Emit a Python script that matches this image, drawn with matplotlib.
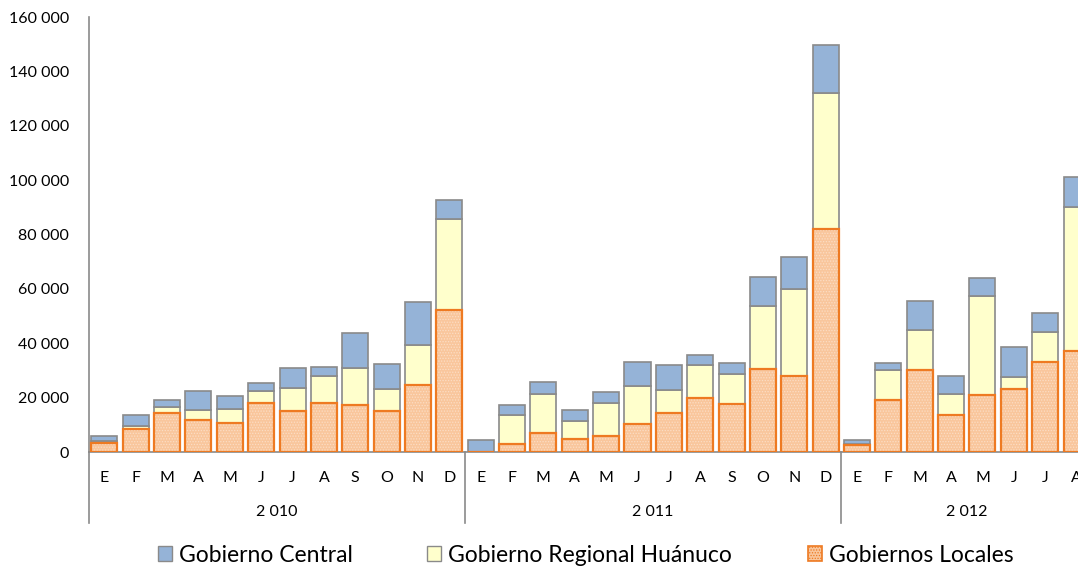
import matplotlib
matplotlib.use("Agg")
import matplotlib.pyplot as plt
from matplotlib.patches import Patch
from matplotlib.ticker import FuncFormatter
import numpy as np

plt.rcParams['font.family'] = ['Lato', 'DejaVu Sans']

years = ["2 010", "2 011", "2 012"]
months_per_year = [12, 12, 8]
month_labels = (["E", "F", "M", "A", "M", "J", "J", "A", "S", "O", "N", "D"] * 2
                 + ["E", "F", "M", "A", "M", "J", "J", "A"])

series_names = ["Gobierno Central", "Gobierno Regional Huánuco", "Gobiernos Locales"]

# Gobiernos Locales (bottom)
locales = [3300, 8350, 14400, 11700, 10600, 18200, 15100, 18200, 17300, 15200, 24700, 52100,
           0, 2950, 6900, 4800, 5800, 10400, 14500, 19800, 17800, 30700, 27900, 82200,
           2450, 19000, 30000, 13600, 21000, 23200, 33300, 37100]
# Gobierno Regional Huánuco (middle)
regional = [900, 1100, 2100, 3900, 5300, 4300, 8400, 9800, 13500, 8000, 14600, 33800,
            0, 10550, 14500, 6600, 12150, 13750, 8200, 12300, 11050, 23000, 32150, 50100,
            500, 11300, 15000, 7600, 36500, 4550, 10800, 53000]
# Gobierno Central (top)
central = [1700, 4200, 2700, 6750, 4550, 3050, 7500, 3450, 13000, 9200, 15850, 6900,
           4300, 3800, 4300, 3950, 4050, 9100, 9450, 3700, 3800, 10700, 11800, 17550,
           1350, 2600, 10700, 6650, 6600, 10800, 7000, 11050]

W, H = 1078, 567
fig = plt.figure(figsize=(W / 100, H / 100), dpi=100)
left_px, right_px = 88.7, 1092.2
top_px, bot_px = 17.3, 452.0
ax = fig.add_axes([left_px / W, 1 - bot_px / H, (right_px - left_px) / W, (bot_px - top_px) / H])

x = np.arange(len(month_labels))
bw = 0.83
grey = "#8A8A8A"
loc_fill = "#F9C69C"
loc_edge = "#EE7A22"
reg_fill = "#FFFFCC"
cen_fill = "#95B3D7"

loc = np.array(locales)
reg = np.array(regional)
cen = np.array(central)

plt.rcParams['hatch.linewidth'] = 0.6
ax.bar(x, loc, bw, color=loc_fill, edgecolor="none", zorder=2)
ax.bar(x, loc, bw, color="none", edgecolor="#FCDDC4", hatch="......", linewidth=0, zorder=2.5)
ax.bar(x, loc, bw, color="none", edgecolor=loc_edge, linewidth=1.6, zorder=3)
ax.bar(x, reg, bw, bottom=loc, color=reg_fill, edgecolor=grey, linewidth=1.2, zorder=2)
ax.bar(x, cen, bw, bottom=loc + reg, color=cen_fill, edgecolor=grey, linewidth=1.2, zorder=2)

ax.set_xlim(-0.5, len(month_labels) - 0.5)
ax.set_ylim(0, 160000)
ax.set_yticks(np.arange(0, 160001, 20000))
ax.yaxis.set_major_formatter(FuncFormatter(lambda v, p: f"{int(v):,}".replace(",", " ")))
ax.tick_params(axis='y', length=0, labelsize=11.5, pad=14, colors="#000000")
ax.set_xticks(x)
ax.set_xticklabels(month_labels)
ax.tick_params(axis='x', length=0, labelsize=11.5, pad=14)

for s in ["top", "right"]:
    ax.spines[s].set_visible(False)
for s in ["left", "bottom"]:
    ax.spines[s].set_color(grey)
    ax.spines[s].set_linewidth(1.2)

# group separators and year labels
trans = ax.get_xaxis_transform()
sep_bottom = -(523 - bot_px) / (bot_px - top_px)
start = 0
bounds = [-0.5]
for n in months_per_year:
    start += n
    bounds.append(start - 0.5)
for b in bounds[:-1]:
    ax.plot([b, b], [0, sep_bottom], transform=trans, color=grey, lw=1.2, clip_on=False)
year_y = -(511.5 - bot_px) / (bot_px - top_px)
for i, yr in enumerate(years):
    cx = (bounds[i] + bounds[i + 1]) / 2
    ax.text(cx, year_y, yr, transform=trans, ha="center", va="center", fontsize=11.5)

handles = [
    Patch(facecolor=cen_fill, edgecolor=grey, linewidth=1.0),
    Patch(facecolor=reg_fill, edgecolor=grey, linewidth=1.0),
    Patch(facecolor=loc_fill, edgecolor=loc_edge, linewidth=1.2, hatch="......"),
]
legend_left_px = [158, 427, 808]
for h, name, lx in zip(handles, series_names, legend_left_px):
    lg = fig.legend([h], [name], loc="center left", bbox_to_anchor=(lx / W, 1 - 555 / H),
                    frameon=False, fontsize=16.5, handlelength=0.62, handleheight=0.62,
                    handletextpad=0.28, borderpad=0, borderaxespad=0)

fig.savefig("out.png", dpi=100)
